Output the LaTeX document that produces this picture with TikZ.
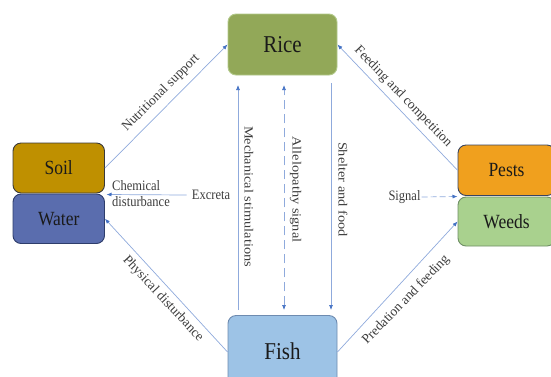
\documentclass[tikz,border=0pt]{standalone}
\usepackage{fontspec}
\setmainfont{Liberation Serif}
\usetikzlibrary{arrows.meta}
\definecolor{ln}{HTML}{8FAADC}
\definecolor{tipc}{HTML}{4472C4}
\definecolor{ricef}{HTML}{92A858}
\definecolor{riceb}{HTML}{B2C98A}
\definecolor{soilf}{HTML}{BF9000}
\definecolor{soilb}{HTML}{3A3A3A}
\definecolor{waterf}{HTML}{5A6DAE}
\definecolor{waterb}{HTML}{2E3D6B}
\definecolor{pestf}{HTML}{F0A01E}
\definecolor{pestb}{HTML}{3A4560}
\definecolor{weedf}{HTML}{A9D18E}
\definecolor{weedb}{HTML}{6F8F66}
\definecolor{fishf}{HTML}{9DC3E6}
\definecolor{fishb}{HTML}{6E8BB0}
\definecolor{txt}{HTML}{1A1A1A}
\newcommand{\hlab}[1]{\scalebox{1}[1.15]{#1}}
\newcommand{\vlab}[1]{\scalebox{1.15}[1]{#1}}
\tikzset{
  box/.style={draw, rounded corners=8pt, line width=0.9pt, inner sep=0pt, text=txt},
  conn/.style={draw=ln, line width=0.7pt, -{Latex[length=5pt,width=4pt,color=tipc]}},
  dconn/.style={conn, dash pattern=on 9pt off 5pt},
  lab/.style={text=txt!85, inner sep=1pt, font=\fontsize{12.5}{14}\selectfont},
  dlab/.style={text=txt!85, inner sep=1pt, font=\fontsize{13.5}{15}\selectfont},
  bigt/.style={font=\fontsize{21}{24}\selectfont},
  midt/.style={font=\fontsize{17.5}{20}\selectfont}
}
\begin{document}
\begin{tikzpicture}[x=1pt,y=-1pt]
\useasboundingbox (0,0) rectangle (551,376);
\clip (0,0) rectangle (551,376);
% boxes
\node[box, bigt, fill=ricef, draw=riceb, minimum width=109pt, minimum height=61pt] (rice) at (282.5,44.5) {\hlab{Rice}};
\node[box, bigt, fill=fishf, draw=fishb, minimum width=109pt, minimum height=73pt] (fish) at (282.5,352) {\raisebox{2pt}{\hlab{Fish}}};
\node[box, midt, fill=soilf, draw=soilb, minimum width=91.5pt, minimum height=50pt] (soil) at (58.75,168) {\hlab{Soil}};
\node[box, midt, fill=waterf, draw=waterb, minimum width=91.5pt, minimum height=49.5pt] (water) at (58.75,218.75) {\hlab{Water}};
\node[box, midt, fill=pestf, draw=pestb, minimum width=97pt, minimum height=50.5pt] (pests) at (506.5,170.25) {\hlab{Pests}};
\node[box, midt, fill=weedf, draw=weedb, minimum width=97pt, minimum height=49pt] (weeds) at (506.5,221.5) {\hlab{Weeds}};
% diagonal connectors
\draw[conn] (soil.east) -- (rice.west);
\draw[conn] (pests.west) -- (rice.east);
\draw[conn] (fish.west) -- (water.east);
\draw[conn] (fish.east) -- (weeds.west);
% diagonal labels
\node[dlab, rotate=45] (nut) at (161,93) {Nutritional support};
\node[dlab, rotate=-46] (feed) at (403,97) {Feeding and competition};
\node[dlab, rotate=-47] (phys) at (163,299) {Physical disturbance};
\node[dlab, rotate=46] (pred) at (406,300) {Predation and feeding};
% chemical disturbance
\node[lab, anchor=center] (excreta) at (211,195) {\hlab{Excreta}};
\coordinate (chemend) at (106.5,194.5);
\draw[conn] (excreta.west) ++(-4,0) coordinate (exs) -- (chemend);
\node[lab, anchor=west] (chem) at (111,195) {\hlab{\begin{tabular}{@{}l@{}}Chemical\\disturbance\end{tabular}}};
% signal
\node[lab] (signal) at (404.5,197) {\hlab{Signal}};
\coordinate (sigend) at (457.5,196.5);
\draw[conn, dash pattern=on 6pt off 3pt] (signal.east) -- (sigend);
% vertical connectors
\coordinate (m1) at (238,310); \coordinate (m2) at (238,85);
\coordinate (a1) at (284,310); \coordinate (a2) at (284,85);
\coordinate (s1) at (331,83);  \coordinate (s2) at (331,310);
\draw[conn] (m1) -- (m2);
\draw[dconn, {Latex[length=5pt,width=4pt,color=tipc]}-{Latex[length=5pt,width=4pt,color=tipc]}] (a1) -- (a2);
\draw[conn] (s1) -- (s2);
\node[lab, rotate=-90] (mech) at (249,196.5) {\vlab{Mechanical stimulations}};
\node[lab, rotate=-90] (alle) at (295.5,189.5) {\vlab{Allelopathy signal}};
\node[lab, rotate=-90] (shel) at (343,189.5) {\vlab{Shelter and food}};
\end{tikzpicture}
\end{document}
